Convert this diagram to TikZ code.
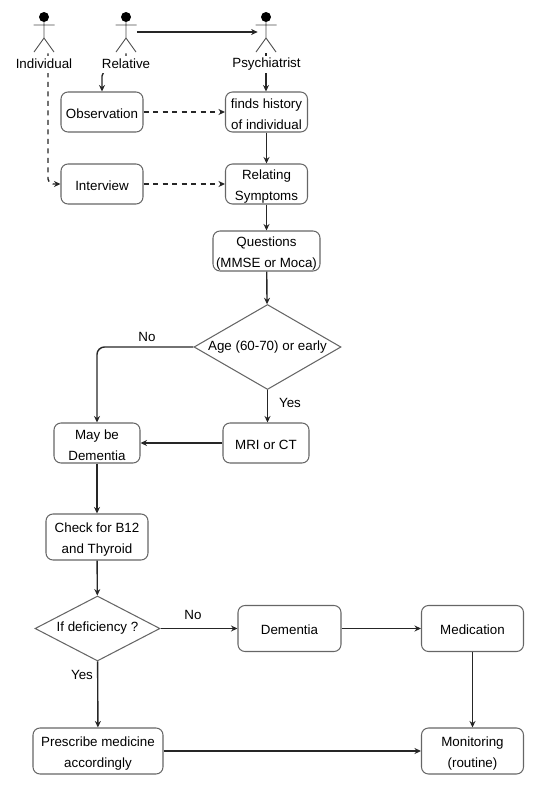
\documentclass[tikz,border=0pt]{standalone}
\usepackage{fontspec}
\setmainfont{Liberation Sans}
\usetikzlibrary{arrows.meta,shapes.geometric}
\tikzset{
  flowbox/.style={draw=black!60,line width=0.6pt,rounded corners=1.4mm,align=center,inner sep=0pt,
    execute at begin node={\rule{0pt}{7.2pt}}},
  flowtwo/.style={flowbox,execute at begin node={\rule{0pt}{20.3pt}}},
  decision/.style={draw=black!60,line width=0.6pt,diamond,aspect=1.73,align=center,inner sep=0pt},
  actorbox/.style={minimum width=4.2mm,minimum height=7.2mm,inner sep=0pt},
  actorlabel/.style={fill=white,inner sep=0pt,minimum height=3.4mm},
  flow/.style={-{Stealth[length=1.3mm,width=1.2mm]},line width=0.8pt,black!85},
  dflow/.style={flow,dash pattern=on 1mm off 0.9mm}
}
\begin{document}
\begin{tikzpicture}[x=0.2mm,y=-0.2mm,font=\fontsize{7.6pt}{12pt}\selectfont]
 \useasboundingbox (0,0) rectangle (543,800);
 \node[actorbox] (individual) at (44,35) {};
 \node[actorbox] (relative) at (126,35) {};
 \node[actorbox] (psychiatrist) at (266,35) {};
 \foreach \a in {individual,relative,psychiatrist} {
   \fill (\a.center) ++(0,-18) circle (1mm);
   \draw[black!70,line width=0.5pt] (\a.center) ++(0,-13) -- ++(0,16) -- ++(-10,14)
     (\a.center) ++(0,3) -- ++(10,14)
     (\a.center) ++(-10.5,-10) -- ++(21,0);
 }
 \node[flowbox,minimum width=16.4mm,minimum height=8mm] (observation) at (102,112) {Observation};
 \node[flowtwo,minimum width=16.4mm,minimum height=8mm] (history) at (266.5,112) {finds history\\of individual};
 \node[flowbox,minimum width=16.4mm,minimum height=8mm] (interview) at (102,184) {Interview};
 \node[flowtwo,minimum width=16.4mm,minimum height=8mm] (symptoms) at (266.5,184) {Relating\\Symptoms};
 \node[flowtwo,minimum width=21.4mm,minimum height=8mm] (questions) at (266.5,251) {Questions\\(MMSE or Moca)};
 \node[decision,minimum width=29.4mm,minimum height=17mm] (age) at (267.5,347) {Age (60-70) or early};
 \node[flowtwo,minimum width=17.2mm,minimum height=8mm] (maybe) at (97,443) {May be\\Dementia};
 \node[flowbox,minimum width=17.2mm,minimum height=8mm] (mri) at (266,443) {MRI or CT};
 \node[flowtwo,minimum width=20.4mm,minimum height=9.2mm] (check) at (97,537) {Check for B12\\and Thyroid};
 \node[decision,minimum width=25mm,minimum height=13mm] (deficiency) at (97.5,628.5) {If deficiency ?};
 \node[flowbox,minimum width=20.6mm,minimum height=9.2mm] (dementia) at (289.5,628.5) {Dementia};
 \node[flowbox,minimum width=20.4mm,minimum height=9.2mm] (medication) at (472.5,628.5) {Medication};
 \node[flowtwo,minimum width=26mm,minimum height=9.2mm] (prescribe) at (98,751) {Prescribe medicine\\accordingly};
 \node[flowtwo,minimum width=20.4mm,minimum height=9.2mm] (monitoring) at (472.5,751) {Monitoring\\(routine)};
 \draw[flow] (relative.east |- 0,32) -- ([xshift=0.5mm]psychiatrist.west |- 0,32);
 \draw[dflow,rounded corners=1mm] (individual.south -| 48,0) -- (48,184) -- (interview.west);
 \draw[flow,rounded corners=1mm] (relative.south) -- (126,71) -- (102,71) -- (observation.north);
 \draw[flow] (psychiatrist.south) -- (history.north -| psychiatrist);
 \draw[dflow] (observation) -- (history);
 \draw[dflow] (interview) -- (symptoms);
 \draw[flow] (history) -- (symptoms);
 \draw[flow] (symptoms) -- (questions.north -| symptoms);
 \draw[flow] (questions) -- (age);
 \draw[flow,rounded corners=1.5mm] (age.west) -- (maybe.north |- age.west) -- (maybe.north);
 \draw[flow] (age) -- (mri.north -| age);
 \draw[flow] (mri) -- (maybe);
 \draw[flow] (maybe) -- (check);
 \draw[flow] (check) -- (deficiency);
 \draw[flow] (deficiency) -- (dementia);
 \draw[flow] (dementia) -- (medication);
 \draw[flow] (medication) -- (monitoring);
 \draw[flow] (deficiency) -- (prescribe);
 \draw[flow] (prescribe) -- (monitoring);
 \node[actorlabel] (individuallabel) at (44,64) {Individual};
 \node[actorlabel] (relativelabel) at (126,64) {Relative};
 \node[actorlabel] (psychiatristlabel) at (266.5,64) {Psychiatrist};
 \node (agenolabel) at (147,337) {No};
 \node (ageyeslabel) at (290,403) {Yes};
 \node (defnolabel) at (193,615) {No};
 \node (defyeslabel) at (82,675) {Yes};
\end{tikzpicture}
\end{document}
